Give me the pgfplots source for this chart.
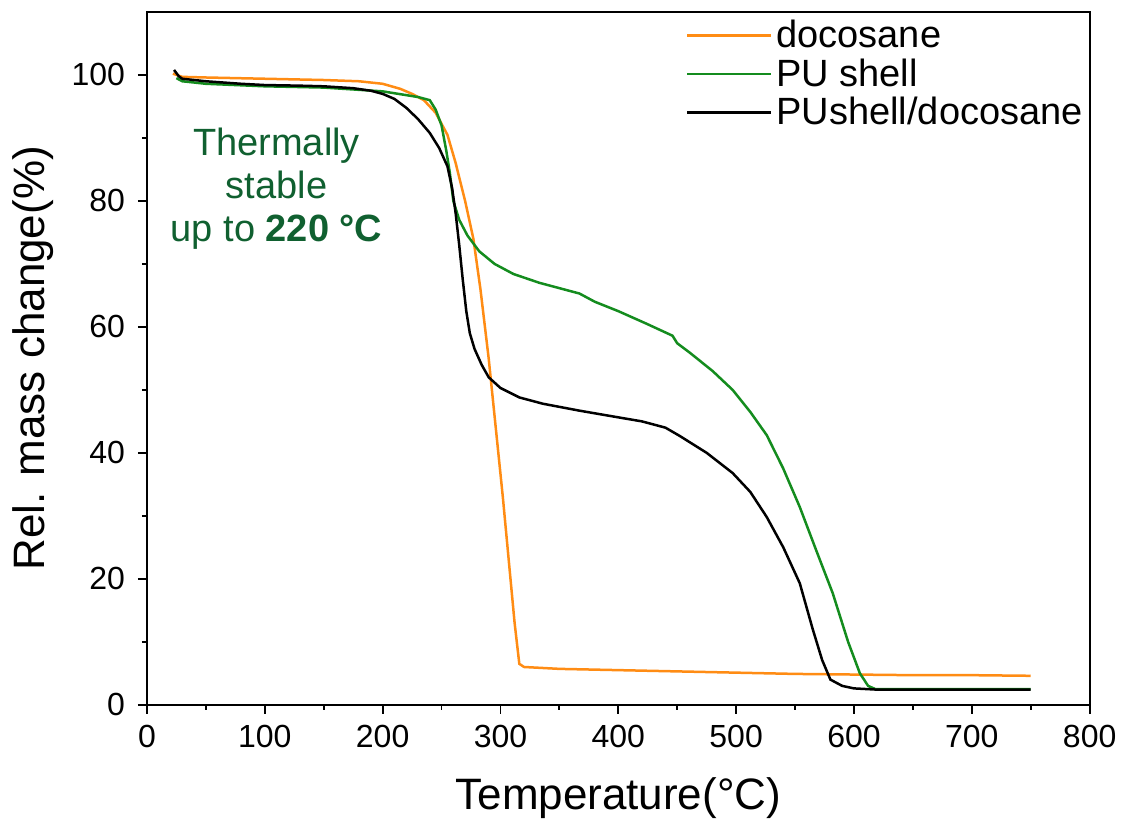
\documentclass[border=0pt]{standalone}
\usepackage{pgfplots}
\pgfplotsset{compat=1.18}
\usepackage{fontspec}
\setmainfont{Liberation Sans}
\definecolor{cOrange}{RGB}{255,140,20}
\definecolor{cGreen}{RGB}{20,140,30}
\definecolor{cNote}{RGB}{16,96,48}
\begin{document}
\begin{tikzpicture}
\begin{axis}[
  scale only axis,
  width=471.5pt, height=346.5pt,
  xmin=0, xmax=800, ymin=0, ymax=110,
  xtick={0,100,...,800},
  ytick={0,20,...,100},
  minor tick num=1,
  tick pos=left,
  tick align=outside,
  major tick length=4.5pt,
  minor tick length=2.5pt,
  axis line style={line width=0.9pt},
  tick style={line width=0.9pt, black},
  /pgf/number format/assume math mode=true,
  ticklabel style={font=\fontsize{16}{19}\selectfont},
  xticklabel style={yshift=-2pt},
  yticklabel style={xshift=-3pt},
  xlabel={Temperature(°C)},
  ylabel={Rel. mass change(\%)},
  label style={font=\fontsize{22}{26}\selectfont},
  xlabel style={yshift=-8pt},
  ylabel style={yshift=2pt},
  legend style={at={(0.565,1.0)}, anchor=north west, draw=none, fill=none,
    font=\fontsize{19}{22}\selectfont, row sep=0pt,
    cells={anchor=west}},
  legend image code/.code={\draw[#1] (0pt,0pt) -- (42pt,0pt);},
]
\addplot[cOrange, line width=1.25pt] coordinates {
 (22,100.2)(30,99.7)(50,99.6)(100,99.4)(150,99.2)(180,99.0)(200,98.6)(215,97.8)
 (225,97)(235,96)(245,94)(255,90.5)(262,86)(270,80)(277,74)(283,66)(290,55)
 (296,44)(302,33)(307,23)(312,13)(316,6.5)(320,6)(350,5.7)(400,5.5)(450,5.3)
 (500,5.1)(550,4.9)(600,4.8)(650,4.7)(700,4.7)(750,4.6)
};
\addlegendentry{docosane}
\addplot[cGreen, line width=1.25pt] coordinates {
 (25,99.5)(30,99)(50,98.6)(100,98.2)(150,98)(200,97.4)(230,96.5)(240,96)
 (245,94.5)(250,92)(254,88)(257,84.5)(260,80)(265,77)(272,74.5)(282,72)
 (295,70)(311,68.4)(333,67)(367,65.3)(380,64)(400,62.5)(424,60.5)(446,58.6)
 (450,57.4)(460,56)(480,53)(497,50)(512,46.5)(526,42.8)(540,37.5)(554,31.4)
 (568,24.5)(582,17.7)(595,10)(605,5)(612,3)(618,2.5)(650,2.5)(700,2.5)(750,2.5)
};
\addlegendentry{PU shell}
\addplot[black, line width=1.25pt] coordinates {
 (23,100.8)(27,99.8)(30,99.4)(50,99)(80,98.6)(100,98.4)(130,98.3)(150,98.2)
 (175,97.9)(190,97.5)(200,97)(210,96.2)(220,94.8)(230,93)(240,90.8)(248,88.4)
 (255,85.5)(259,82)(262,78)(265,73)(268,67.5)(271,62.5)(274,59)(278,56.5)
 (284,54)(290,52)(300,50.3)(316,48.8)(336,47.8)(367,46.7)(398,45.7)(420,45)
 (440,44)(452,42.7)(475,40)(497,36.8)(512,33.8)(526,29.8)(540,25)(554,19.3)
 (565,12)(573,7.1)(580,4)(590,3)(600,2.6)(620,2.4)(650,2.4)(700,2.4)(750,2.4)
};
\addlegendentry{PUshell/docosane}
\node[cNote, align=center, font=\fontsize{19}{21.5}\selectfont]
  at (axis cs:110,82) {Thermally\\stable\\up to \textbf{220 °C}};
\end{axis}
\path (current axis.south west) ++(-73.5pt,-65pt) coordinate (bbA);
\path (current axis.north east) ++(16.5pt,6pt) coordinate (bbB);
\path (bbA) rectangle (bbB);
\end{tikzpicture}
\end{document}
